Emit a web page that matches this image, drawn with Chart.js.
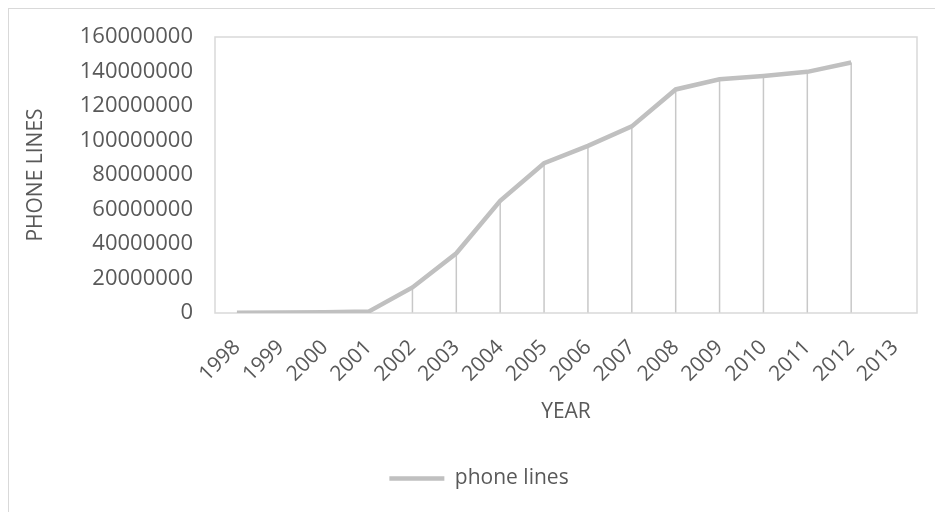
<!DOCTYPE html>
<html>
<head>
<meta charset="utf-8">
<script src="https://cdn.jsdelivr.net/npm/chart.js@4"></script>
<style>
  html, body { margin: 0; padding: 0; background: #fff; overflow: hidden; }
  #box {
    position: absolute; left: 8px; top: 8px;
    width: 944px; height: 520px;
    border: 1px solid #d9d9d9; box-sizing: border-box;
  }
  #chart { display: block; }
</style>
</head>
<body>
<div id="box"><canvas id="chart" width="942" height="518"></canvas></div>
<script>
const years = ["1998", "1999", "2000", "2001", "2002", "2003", "2004", "2005",
  "2006", "2007", "2008", "2009", "2010", "2011", "2012", "2013"]
const phoneLines = [200000, 300000, 400000, 800000, 14800000, 34600000, 65000000, 86800000,
  96900000, 108200000, 129600000, 135500000, 137400000, 139800000, 145200000, null]
const yTicks = [0, 20000000, 40000000, 60000000, 80000000, 100000000, 120000000, 140000000, 160000000]

const textColor = "#595959"
const fontFamily = "'Open Sans', 'Liberation Sans', sans-serif"

// Excel style drop lines + plot area border
const excelLook = {
  id: "excelLook",
  beforeDatasetsDraw(chart) {
    const ctx = chart.ctx
    const area = chart.chartArea
    const meta = chart.getDatasetMeta(0)
    ctx.save()
    ctx.strokeStyle = "#c8c8c8"
    ctx.lineWidth = 1.5
    meta.data.forEach((pt, i) => {
      if (phoneLines[i] === null) return
      ctx.beginPath()
      ctx.moveTo(pt.x, pt.y)
      ctx.lineTo(pt.x, area.bottom)
      ctx.stroke()
    })
    ctx.strokeStyle = "#d9d9d9"
    ctx.lineWidth = 1.5
    ctx.strokeRect(area.left, area.top, area.right - area.left, area.bottom - area.top)
    ctx.restore()
  }
}

const data = {
  labels: years,
  datasets: [{
    label: "phone lines",
    data: phoneLines,
    borderColor: "#c0c0c0",
    backgroundColor: "#c0c0c0",
    borderWidth: 4.5,
    pointRadius: 0,
    tension: 0,
    spanGaps: false
  }]
}

const config = {
  type: "line",
  data: data,
  plugins: [excelLook],
  options: {
    responsive: false,
    animation: false,
    layout: { padding: { left: 32, right: 34, top: 28, bottom: 28 } },
    plugins: {
      tooltip: { enabled: false },
      legend: {
        position: "bottom",
        labels: {
          color: textColor,
          font: { family: fontFamily, size: 21 },
          boxWidth: 55,
          boxHeight: 0,
          padding: 10,
          generateLabels(chart) {
            return [{
              text: "phone lines",
              strokeStyle: "#c0c0c0",
              fillStyle: "#c0c0c0",
              lineWidth: 4.5,
              lineCap: "round",
              fontColor: textColor,
              datasetIndex: 0
            }]
          }
        }
      }
    },
    scales: {
      x: {
        type: "category",
        offset: true,
        grid: { display: false },
        border: { display: false },
        ticks: {
          color: textColor,
          font: { family: fontFamily, size: 21 },
          minRotation: 45,
          maxRotation: 45,
          autoSkip: false,
          padding: 14
        },
        title: {
          display: true,
          text: "YEAR",
          color: textColor,
          font: { family: fontFamily, size: 21 },
          padding: { top: 20, bottom: 33 }
        },
        afterFit(scale) { scale.height = 145 }
      },
      y: {
        min: 0,
        max: 160000000,
        afterBuildTicks(scale) { scale.ticks = yTicks.map(v => ({ value: v })) },
        grid: { display: false, drawTicks: false },
        border: { display: false },
        ticks: {
          color: textColor,
          font: { family: fontFamily, size: 22 },
          padding: 22,
          callback: v => String(v)
        },
        title: {
          display: true,
          text: "PHONE LINES",
          color: textColor,
          font: { family: fontFamily, size: 21 },
          padding: { top: -18, bottom: 8 }
        },
        afterFit(scale) {
          scale.width = 174
          scale.paddingTop = 0
        }
      }
    }
  }
}

const phoneChart = new Chart(document.getElementById("chart"), config)
</script>
</body>
</html>
